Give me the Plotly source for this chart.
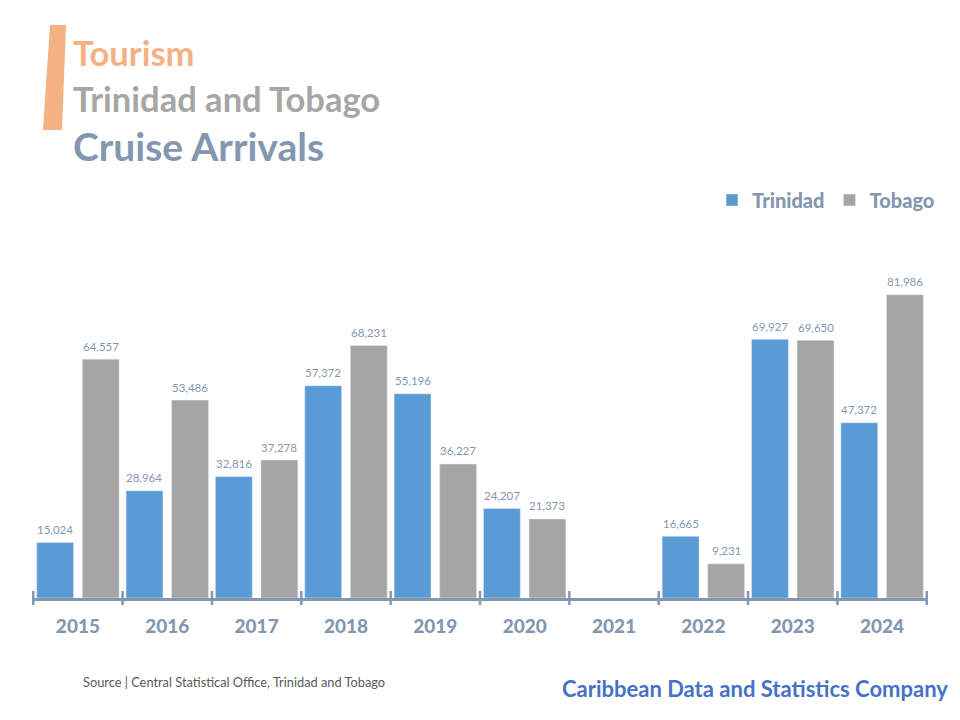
import plotly.graph_objects as go

years = ["2015", "2016", "2017", "2018", "2019", "2020", "2021", "2022", "2023", "2024"]
trinidad = [15024, 28964, 32816, 57372, 55196, 24207, None, 16665, 69927, 47372]
tobago = [64557, 53486, 37278, 68231, 36227, 21373, None, 9231, 69650, 81986]

FONT = "Lato"
AXC = "#8497B0"
W, H = 960, 720
L, R, T, B = 32, 32, 265, 122
PW, PH = W - L - R, H - T - B

def px(x):
    return (x - L) / PW

def py(y):
    return (H - B - y) / PH

def lab(v):
    return "" if v is None else f"{v:,}"

BW = 0.413
SEP = 0.255
series = [("Trinidad", trinidad, "#5B9BD5", -SEP), ("Tobago", tobago, "#A5A5A5", SEP)]

fig = go.Figure()
annotations = []
for name, vals, col, c in series:
    fig.add_trace(go.Bar(name=name, x=years, y=vals, marker_color=col,
                         width=BW, offset=c - BW / 2))
    for i, v in enumerate(vals):
        if v is None:
            continue
        annotations.append(dict(xref="x", yref="y", x=i + c, y=v, text=lab(v), showarrow=False,
                                yanchor="middle", yshift=13,
                                font=dict(size=11.5, color=AXC, family=FONT)))

# tick marks crossing the axis line at category boundaries
shapes = []
for i in range(len(years) + 1):
    shapes.append(dict(type="line", xref="x", yref="paper", x0=i - 0.5, x1=i - 0.5,
                       y0=py(605), y1=py(591), line=dict(color=AXC, width=2.5)))
# orange slanted accent bar
pts = [(50, 25), (66, 25), (62, 130), (43, 130)]
path = "M " + " L ".join(f"{px(a)},{py(b)}" for a, b in pts) + " Z"
shapes.append(dict(type="path", xref="paper", yref="paper", path=path,
                   fillcolor="#F4B183", line=dict(width=0)))

texts = [
    dict(text="<b>Tourism</b>", x=px(71), y=py(52), font=dict(size=34.5, color="#F4B183", family=FONT)),
    dict(text="<b>Trinidad and Tobago</b>", x=px(71), y=py(98), font=dict(size=34.5, color="#A6A6A6", family=FONT)),
    dict(text="<b>Cruise Arrivals</b>", x=px(71), y=py(146), font=dict(size=39, color=AXC, family=FONT)),
    dict(text="Source | Central Statistical Office, Trinidad and Tobago", x=px(81), y=py(682),
         font=dict(size=12.8, color="#595959", family=FONT)),
]
for a in texts:
    a.update(xref="paper", yref="paper", xanchor="left", yanchor="middle", showarrow=False)
texts.append(dict(text="<b>Caribbean Data and Statistics Company</b>", x=px(950), y=py(688),
                  xref="paper", yref="paper", xanchor="right", yanchor="middle", showarrow=False,
                  font=dict(size=22, color="#4472C4", family=FONT)))
annotations += texts

fig.update_layout(
    width=W, height=H, margin=dict(l=L, r=R, t=T, b=B),
    paper_bgcolor="white", plot_bgcolor="white",
    barmode="overlay",
    font=dict(family=FONT, color=AXC),
    showlegend=True,
    legend=dict(orientation="h", x=px(940), xanchor="right", y=py(200), yanchor="middle",
                font=dict(size=20, color=AXC, family=FONT + " Black"),
                itemwidth=30, traceorder="normal"),
    shapes=shapes, annotations=annotations,
    xaxis=dict(type="category", showline=True, linecolor=AXC, linewidth=3,
               ticks="", showgrid=False, tickfont=dict(size=19, color=AXC, family=FONT + " Black"),
               ticklabelstandoff=9),
    yaxis=dict(range=[0, 90000], visible=False, showgrid=False, zeroline=False),
)
fig.write_html("out.html")
